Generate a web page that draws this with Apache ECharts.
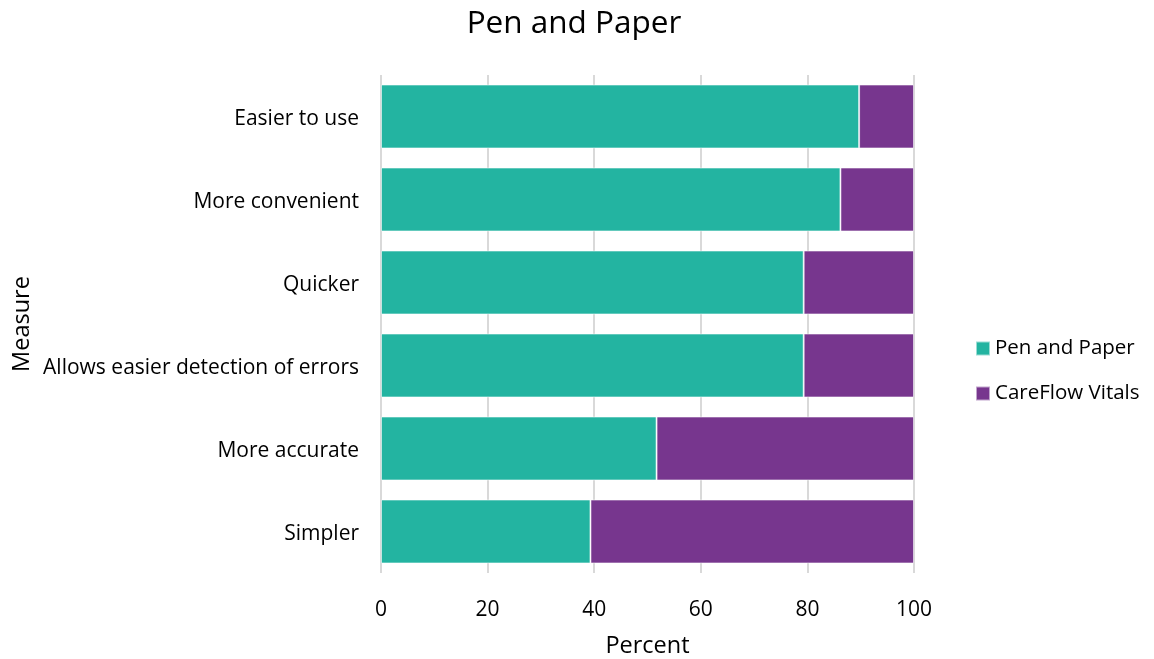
<!DOCTYPE html>
<html>
<head>
<meta charset="utf-8">
<script src="https://cdn.jsdelivr.net/npm/echarts@6/dist/echarts.min.js"></script>
<style>
  html, body { margin: 0; padding: 0; background: #ffffff; }
  #chart { width: 1154px; height: 659px; }
</style>
</head>
<body>
<div id="chart"></div>
<script>
// Survey measures, listed bottom to top as the category axis draws them
const measures = ['Simpler', 'More accurate', 'Allows easier detection of errors', 'Quicker', 'More convenient', 'Easier to use'];
// Percent of respondents preferring each method
const penAndPaper = [39.3, 51.7, 79.3, 79.3, 86.2, 89.7];
const careFlowVitals = [60.7, 48.3, 20.7, 20.7, 13.8, 10.3];
const percentTicks = [0, 20, 40, 60, 80, 100];

const FONT = '"Open Sans", "Noto Sans", sans-serif';

const chart = echarts.init(document.getElementById('chart'), null, { renderer: 'canvas' });

chart.setOption({
  animation: false,
  backgroundColor: '#ffffff',
  title: {
    text: 'Pen and Paper',
    left: 569,
    textAlign: 'center',
    top: 3,
    textStyle: { fontFamily: FONT, fontSize: 31.5, fontWeight: 'normal', color: '#000000' }
  },
  legend: {
    orient: 'vertical',
    left: 970,
    top: 333,
    itemWidth: 14,
    itemHeight: 14,
    itemGap: 24,
    icon: 'rect',
    textStyle: { fontFamily: FONT, fontSize: 20.5, color: '#000000', padding: [0, 0, 0, 0] },
    data: ['Pen and Paper', 'CareFlow Vitals']
  },
  grid: {
    left: 381,
    top: 75,
    width: 533,
    height: 498,
    containLabel: false,
    outerBoundsMode: 'none'
  },
  xAxis: {
    type: 'value',
    min: percentTicks[0],
    max: percentTicks[percentTicks.length - 1],
    interval: 20,
    name: 'Percent',
    nameLocation: 'middle',
    nameGap: 61,
    nameTextStyle: { fontFamily: FONT, fontSize: 23.5, color: '#000000' },
    axisLine: { show: false },
    axisTick: { show: false },
    axisLabel: { fontFamily: FONT, fontSize: 21, color: '#000000', margin: 27 },
    splitLine: { show: true, lineStyle: { color: '#d9d9d9', width: 2 } }
  },
  yAxis: {
    type: 'category',
    data: measures,
    name: 'Measure',
    nameLocation: 'middle',
    nameGap: 347,
    nameRotate: 90,
    nameTextStyle: { fontFamily: FONT, fontSize: 23.5, color: '#000000' },
    axisLine: { show: false },
    axisTick: { show: false },
    axisLabel: {
      margin: 22,
      formatter: function (v) { return '{m|' + v + '}'; },
      rich: {
        m: { fontFamily: FONT, fontSize: 21, color: '#000000', padding: [6, 0, 0, 0] }
      }
    }
  },
  series: [
    {
      name: 'Pen and Paper',
      type: 'bar',
      stack: 'total',
      data: penAndPaper,
      barWidth: '77%',
      itemStyle: { color: '#23b4a1', borderColor: 'rgba(255,255,255,0.55)', borderWidth: 1 }
    },
    {
      name: 'CareFlow Vitals',
      type: 'bar',
      stack: 'total',
      data: careFlowVitals,
      barWidth: '77%',
      itemStyle: { color: '#77368e', borderColor: 'rgba(255,255,255,0.55)', borderWidth: 1 }
    }
  ]
});
</script>
</body>
</html>
